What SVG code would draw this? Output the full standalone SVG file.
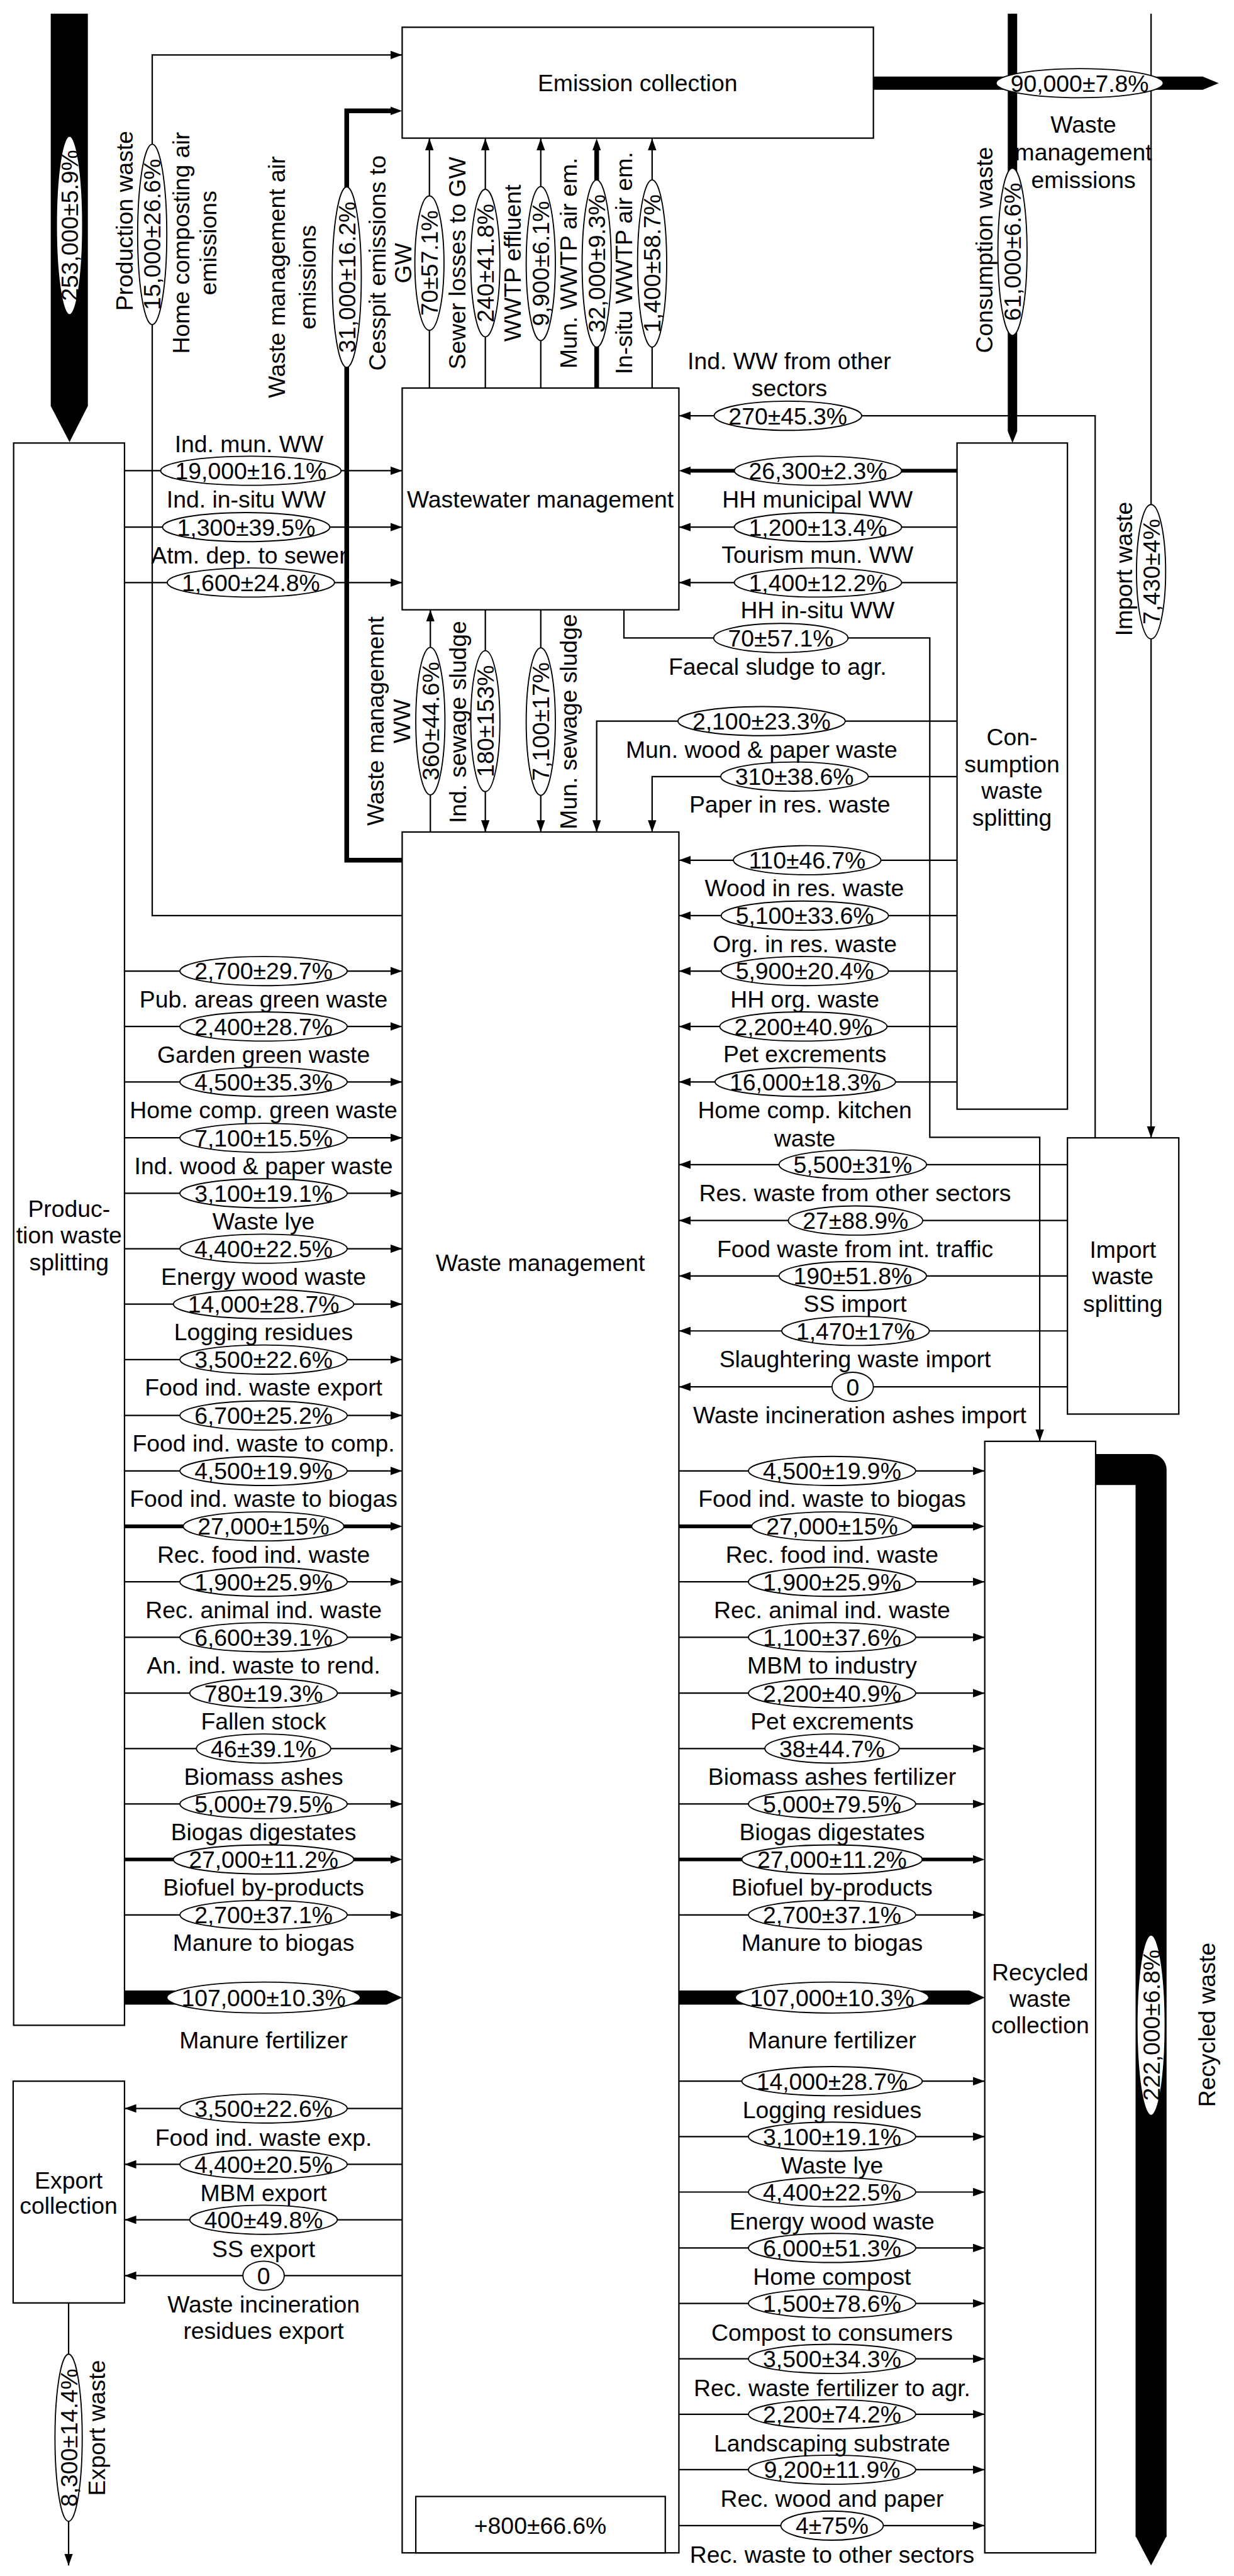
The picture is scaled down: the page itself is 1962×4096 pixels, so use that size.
<svg xmlns="http://www.w3.org/2000/svg" width="1962" height="4096" viewBox="0 0 1962 4096">
<style>
.b{fill:#fff;stroke:#000;stroke-width:3}
.l{fill:none;stroke:#000;stroke-width:3}
.k{stroke-width:8}
.e{fill:#fff;stroke:#000;stroke-width:2.5}
.f{fill:#000;stroke:none}
text{font-family:"Liberation Sans",Arial,sans-serif;font-size:50px;text-anchor:middle;fill:#000}
</style>
<defs>
<marker id="a" markerUnits="userSpaceOnUse" viewBox="0 0 25 18" markerWidth="25" markerHeight="18" refX="25" refY="9" orient="auto"><path d="M0,0L25,9L0,18z"/></marker>
<marker id="b" markerUnits="userSpaceOnUse" viewBox="0 0 25 18" markerWidth="25" markerHeight="18" refX="9" refY="9" orient="auto"><path d="M0,0L25,9L0,18z"/></marker>
</defs>
<rect width="1962" height="4096" fill="#fff"/>
<g transform="scale(0.747)">
<g id="connectors">
<polygon class="f" points="108,29 187,29 187,864 148,941 108,864"/>
<path class="l" d="M856,1949H324V117H856" marker-end="url(#a)"/>
<path class="l" style="stroke-width:10" d="M856,1831H738V236H840" marker-end="url(#b)"/>
<path class="l" d="M914,826V295" marker-end="url(#a)"/>
<path class="l" d="M1033,826V295" marker-end="url(#a)"/>
<path class="l" d="M1151,826V295" marker-end="url(#a)"/>
<path class="l" style="stroke-width:10" d="M1270,826V311" marker-end="url(#b)"/>
<path class="l" d="M1388,826V295" marker-end="url(#a)"/>
<polygon class="f" points="1859,163 2560,163 2594,177 2560,191 1859,191"/>
<polygon class="f" points="2145,29 2165,29 2165,918 2155,943 2145,918"/>
<path class="l" d="M2450,29V2422" marker-end="url(#a)"/>
<path class="l" d="M2331,2422V885H1445" marker-end="url(#a)"/>
<path class="l k" d="M2037,1002H1461" marker-end="url(#b)"/>
<path class="l" d="M2037,1122H1445" marker-end="url(#a)"/>
<path class="l" d="M2037,1240H1445" marker-end="url(#a)"/>
<path class="l" d="M265,1002H856" marker-end="url(#a)"/>
<path class="l" d="M265,1122H856" marker-end="url(#a)"/>
<path class="l" d="M265,1240H856" marker-end="url(#a)"/>
<path class="l" d="M1328,1298V1358H1979V2421H2213V3068" marker-end="url(#a)"/>
<path class="l" d="M2037,1535H1270V1771" marker-end="url(#a)"/>
<path class="l" d="M2037,1653H1388V1771" marker-end="url(#a)"/>
<path class="l" d="M916,1771V1298" marker-end="url(#a)"/>
<path class="l" d="M1033,1298V1771" marker-end="url(#a)"/>
<path class="l" d="M1151,1298V1771" marker-end="url(#a)"/>
<path class="l" d="M2037,1831H1445" marker-end="url(#a)"/>
<path class="l" d="M2037,1949H1445" marker-end="url(#a)"/>
<path class="l" d="M2037,2067H1445" marker-end="url(#a)"/>
<path class="l" d="M2037,2185H1445" marker-end="url(#a)"/>
<path class="l" d="M2037,2303H1445" marker-end="url(#a)"/>
<path class="l" d="M2272,2479H1445" marker-end="url(#a)"/>
<path class="l" d="M2272,2598H1445" marker-end="url(#a)"/>
<path class="l" d="M2272,2716H1445" marker-end="url(#a)"/>
<path class="l" d="M2272,2833H1445" marker-end="url(#a)"/>
<path class="l" d="M2272,2952H1445" marker-end="url(#a)"/>
<path class="l" d="M265,2067H856" marker-end="url(#a)"/>
<path class="l" d="M265,2185H856" marker-end="url(#a)"/>
<path class="l" d="M265,2303H856" marker-end="url(#a)"/>
<path class="l" d="M265,2422H856" marker-end="url(#a)"/>
<path class="l" d="M265,2540H856" marker-end="url(#a)"/>
<path class="l" d="M265,2658H856" marker-end="url(#a)"/>
<path class="l" d="M265,2776H856" marker-end="url(#a)"/>
<path class="l" d="M265,2894H856" marker-end="url(#a)"/>
<path class="l" d="M265,3013H856" marker-end="url(#a)"/>
<path class="l" d="M265,3131H856" marker-end="url(#a)"/>
<path class="l k" d="M265,3249H840" marker-end="url(#b)"/>
<path class="l" d="M265,3367H856" marker-end="url(#a)"/>
<path class="l" d="M265,3485H856" marker-end="url(#a)"/>
<path class="l" d="M265,3604H856" marker-end="url(#a)"/>
<path class="l" d="M265,3722H856" marker-end="url(#a)"/>
<path class="l" d="M265,3840H856" marker-end="url(#a)"/>
<path class="l k" d="M265,3958H840" marker-end="url(#b)"/>
<path class="l" d="M265,4076H856" marker-end="url(#a)"/>
<polygon class="f" points="265,4237 823,4237 856,4252 823,4267 265,4267"/>
<path class="l" d="M1445,3131H2096" marker-end="url(#a)"/>
<path class="l k" d="M1445,3249H2080" marker-end="url(#b)"/>
<path class="l" d="M1445,3367H2096" marker-end="url(#a)"/>
<path class="l" d="M1445,3485H2096" marker-end="url(#a)"/>
<path class="l" d="M1445,3604H2096" marker-end="url(#a)"/>
<path class="l" d="M1445,3722H2096" marker-end="url(#a)"/>
<path class="l" d="M1445,3840H2096" marker-end="url(#a)"/>
<path class="l k" d="M1445,3958H2080" marker-end="url(#b)"/>
<path class="l" d="M1445,4076H2096" marker-end="url(#a)"/>
<polygon class="f" points="1445,4237 2063,4237 2096,4252 2063,4267 1445,4267"/>
<path class="l" d="M1445,4430H2096" marker-end="url(#a)"/>
<path class="l" d="M1445,4548H2096" marker-end="url(#a)"/>
<path class="l" d="M1445,4666H2096" marker-end="url(#a)"/>
<path class="l" d="M1445,4785H2096" marker-end="url(#a)"/>
<path class="l" d="M1445,4903H2096" marker-end="url(#a)"/>
<path class="l" d="M1445,5021H2096" marker-end="url(#a)"/>
<path class="l" d="M1445,5139H2096" marker-end="url(#a)"/>
<path class="l" d="M1445,5257H2096" marker-end="url(#a)"/>
<path class="l" d="M1445,5376H2096" marker-end="url(#a)"/>
<path class="l" d="M856,4488H265" marker-end="url(#a)"/>
<path class="l" d="M856,4607H265" marker-end="url(#a)"/>
<path class="l" d="M856,4725H265" marker-end="url(#a)"/>
<path class="l" d="M856,4844H265" marker-end="url(#a)"/>
<path class="l" d="M146,4902V5461" marker-end="url(#a)"/>
<path d="M2332,3128H2450V5400" style="fill:none;stroke:#000;stroke-width:66;stroke-linejoin:round"/>
<polygon class="f" points="2417,5398 2483,5398 2450,5461"/>
</g>
<g id="emission-collection"><rect class="b" x="856" y="58" width="1003" height="236"/><text x="1357" y="194">Emission collection</text></g>
<g id="wastewater-management"><rect class="b" x="856" y="826" width="589" height="472"/><text x="1150" y="1080">Wastewater management</text></g>
<g id="waste-management"><rect class="b" x="856" y="1771" width="589" height="3663"/><text x="1150" y="2706">Waste management</text><rect class="b" x="885" y="5314" width="531" height="120"/><text x="1150" y="5393">+800±66.6%</text></g>
<g id="production-waste-splitting"><rect class="b" x="29" y="943" width="236" height="3368"/><text x="147" y="2590">Produc-</text><text x="147" y="2647">tion waste</text><text x="147" y="2704">splitting</text></g>
<g id="export-collection"><rect class="b" x="28" y="4430" width="237" height="472"/><text x="146" y="4658">Export</text><text x="146" y="4712">collection</text></g>
<g id="consumption-waste-splitting"><rect class="b" x="2037" y="943" width="235" height="1418"/><text x="2154" y="1586">Con-</text><text x="2154" y="1644">sumption</text><text x="2154" y="1700">waste</text><text x="2154" y="1758">splitting</text></g>
<g id="import-waste-splitting"><rect class="b" x="2272" y="2422" width="237" height="588"/><text x="2390" y="2677">Import</text><text x="2390" y="2734">waste</text><text x="2390" y="2792">splitting</text></g>
<g id="recycled-waste-collection"><rect class="b" x="2096" y="3068" width="236" height="2366"/><text x="2214" y="4215">Recycled</text><text x="2214" y="4272">waste</text><text x="2214" y="4328">collection</text></g>
<g id="connector-labels">
<ellipse class="e" cx="148" cy="480" rx="28" ry="190"/><text transform="translate(148,480) rotate(-90)" y="18">253,000±5.9%</text>
<ellipse class="e" cx="324" cy="499" rx="31" ry="192"/><text transform="translate(324,499) rotate(-90)" y="18">15,000±26.6%</text>
<ellipse class="e" cx="738" cy="590" rx="31" ry="192"/><text transform="translate(738,590) rotate(-90)" y="18">31,000±16.2%</text>
<ellipse class="e" cx="914" cy="560" rx="31" ry="143"/><text transform="translate(914,560) rotate(-90)" y="18">70±57.1%</text>
<ellipse class="e" cx="1033" cy="560" rx="31" ry="157"/><text transform="translate(1033,560) rotate(-90)" y="18">240±41.8%</text>
<ellipse class="e" cx="1151" cy="561" rx="31" ry="164"/><text transform="translate(1151,561) rotate(-90)" y="18">9,900±6.1%</text>
<ellipse class="e" cx="1270" cy="561" rx="31" ry="178"/><text transform="translate(1270,561) rotate(-90)" y="18">32,000±9.3%</text>
<ellipse class="e" cx="1388" cy="561" rx="31" ry="178"/><text transform="translate(1388,561) rotate(-90)" y="18">1,400±58.7%</text>
<ellipse class="e" cx="2155" cy="536" rx="31" ry="178"/><text transform="translate(2155,536) rotate(-90)" y="18">61,000±6.6%</text>
<ellipse class="e" cx="2450" cy="1217" rx="31" ry="143"/><text transform="translate(2450,1217) rotate(-90)" y="18">7,430±4%</text>
<ellipse class="e" cx="916" cy="1535" rx="31" ry="157"/><text transform="translate(916,1535) rotate(-90)" y="18">360±44.6%</text>
<ellipse class="e" cx="1033" cy="1535" rx="31" ry="150"/><text transform="translate(1033,1535) rotate(-90)" y="18">180±153%</text>
<ellipse class="e" cx="1151" cy="1536" rx="31" ry="157"/><text transform="translate(1151,1536) rotate(-90)" y="18">7,100±17%</text>
<ellipse class="e" cx="146" cy="5189" rx="29" ry="178"/><text transform="translate(146,5189) rotate(-90)" y="18">8,300±14.4%</text>
<ellipse class="e" cx="2450" cy="4311" rx="30" ry="192"/><text transform="translate(2450,4311) rotate(-90)" y="18">222,000±6.8%</text>
<ellipse class="e" cx="2298" cy="177" rx="178" ry="31"/><text x="2298" y="195">90,000±7.8%</text>
<ellipse class="e" cx="1677" cy="885" rx="157" ry="31"/><text x="1677" y="903">270±45.3%</text>
<ellipse class="e" cx="534" cy="1002" rx="192" ry="31"/><text x="534" y="1020">19,000±16.1%</text>
<ellipse class="e" cx="524" cy="1122" rx="178" ry="31"/><text x="524" y="1140">1,300±39.5%</text>
<ellipse class="e" cx="534" cy="1240" rx="178" ry="31"/><text x="534" y="1258">1,600±24.8%</text>
<ellipse class="e" cx="1741" cy="1002" rx="178" ry="31"/><text x="1741" y="1020">26,300±2.3%</text>
<ellipse class="e" cx="1741" cy="1122" rx="178" ry="31"/><text x="1741" y="1140">1,200±13.4%</text>
<ellipse class="e" cx="1741" cy="1240" rx="178" ry="31"/><text x="1741" y="1258">1,400±12.2%</text>
<ellipse class="e" cx="1662" cy="1358" rx="143" ry="31"/><text x="1662" y="1376">70±57.1%</text>
<ellipse class="e" cx="1621" cy="1535" rx="178" ry="31"/><text x="1621" y="1553">2,100±23.3%</text>
<ellipse class="e" cx="1691" cy="1653" rx="157" ry="31"/><text x="1691" y="1671">310±38.6%</text>
<ellipse class="e" cx="1718" cy="1831" rx="157" ry="31"/><text x="1718" y="1849">110±46.7%</text>
<ellipse class="e" cx="1713" cy="1949" rx="178" ry="31"/><text x="1713" y="1967">5,100±33.6%</text>
<ellipse class="e" cx="1713" cy="2067" rx="178" ry="31"/><text x="1713" y="2085">5,900±20.4%</text>
<ellipse class="e" cx="1710" cy="2185" rx="178" ry="31"/><text x="1710" y="2203">2,200±40.9%</text>
<ellipse class="e" cx="1714" cy="2303" rx="192" ry="31"/><text x="1714" y="2321">16,000±18.3%</text>
<ellipse class="e" cx="1815" cy="2479" rx="157" ry="31"/><text x="1815" y="2497">5,500±31%</text>
<ellipse class="e" cx="1821" cy="2598" rx="143" ry="31"/><text x="1821" y="2616">27±88.9%</text>
<ellipse class="e" cx="1815" cy="2716" rx="157" ry="31"/><text x="1815" y="2734">190±51.8%</text>
<ellipse class="e" cx="1821" cy="2833" rx="157" ry="31"/><text x="1821" y="2851">1,470±17%</text>
<ellipse class="e" cx="1815" cy="2952" rx="44" ry="31"/><text x="1815" y="2970">0</text>
<ellipse class="e" cx="561" cy="2067" rx="178" ry="31"/><text x="561" y="2085">2,700±29.7%</text>
<ellipse class="e" cx="561" cy="2185" rx="178" ry="31"/><text x="561" y="2203">2,400±28.7%</text>
<ellipse class="e" cx="561" cy="2303" rx="178" ry="31"/><text x="561" y="2321">4,500±35.3%</text>
<ellipse class="e" cx="561" cy="2422" rx="178" ry="31"/><text x="561" y="2440">7,100±15.5%</text>
<ellipse class="e" cx="561" cy="2540" rx="178" ry="31"/><text x="561" y="2558">3,100±19.1%</text>
<ellipse class="e" cx="561" cy="2658" rx="178" ry="31"/><text x="561" y="2676">4,400±22.5%</text>
<ellipse class="e" cx="561" cy="2776" rx="192" ry="31"/><text x="561" y="2794">14,000±28.7%</text>
<ellipse class="e" cx="561" cy="2894" rx="178" ry="31"/><text x="561" y="2912">3,500±22.6%</text>
<ellipse class="e" cx="561" cy="3013" rx="178" ry="31"/><text x="561" y="3031">6,700±25.2%</text>
<ellipse class="e" cx="561" cy="3131" rx="178" ry="31"/><text x="561" y="3149">4,500±19.9%</text>
<ellipse class="e" cx="561" cy="3249" rx="171" ry="31"/><text x="561" y="3267">27,000±15%</text>
<ellipse class="e" cx="561" cy="3367" rx="178" ry="31"/><text x="561" y="3385">1,900±25.9%</text>
<ellipse class="e" cx="561" cy="3485" rx="178" ry="31"/><text x="561" y="3503">6,600±39.1%</text>
<ellipse class="e" cx="561" cy="3604" rx="157" ry="31"/><text x="561" y="3622">780±19.3%</text>
<ellipse class="e" cx="561" cy="3722" rx="143" ry="31"/><text x="561" y="3740">46±39.1%</text>
<ellipse class="e" cx="561" cy="3840" rx="178" ry="31"/><text x="561" y="3858">5,000±79.5%</text>
<ellipse class="e" cx="561" cy="3958" rx="192" ry="31"/><text x="561" y="3976">27,000±11.2%</text>
<ellipse class="e" cx="561" cy="4076" rx="178" ry="31"/><text x="561" y="4094">2,700±37.1%</text>
<ellipse class="e" cx="561" cy="4252" rx="206" ry="33"/><text x="561" y="4270">107,000±10.3%</text>
<ellipse class="e" cx="1771" cy="3131" rx="178" ry="31"/><text x="1771" y="3149">4,500±19.9%</text>
<ellipse class="e" cx="1771" cy="3249" rx="171" ry="31"/><text x="1771" y="3267">27,000±15%</text>
<ellipse class="e" cx="1771" cy="3367" rx="178" ry="31"/><text x="1771" y="3385">1,900±25.9%</text>
<ellipse class="e" cx="1771" cy="3485" rx="178" ry="31"/><text x="1771" y="3503">1,100±37.6%</text>
<ellipse class="e" cx="1771" cy="3604" rx="178" ry="31"/><text x="1771" y="3622">2,200±40.9%</text>
<ellipse class="e" cx="1771" cy="3722" rx="143" ry="31"/><text x="1771" y="3740">38±44.7%</text>
<ellipse class="e" cx="1771" cy="3840" rx="178" ry="31"/><text x="1771" y="3858">5,000±79.5%</text>
<ellipse class="e" cx="1771" cy="3958" rx="192" ry="31"/><text x="1771" y="3976">27,000±11.2%</text>
<ellipse class="e" cx="1771" cy="4076" rx="178" ry="31"/><text x="1771" y="4094">2,700±37.1%</text>
<ellipse class="e" cx="1771" cy="4252" rx="206" ry="33"/><text x="1771" y="4270">107,000±10.3%</text>
<ellipse class="e" cx="1771" cy="4430" rx="192" ry="31"/><text x="1771" y="4448">14,000±28.7%</text>
<ellipse class="e" cx="1771" cy="4548" rx="178" ry="31"/><text x="1771" y="4566">3,100±19.1%</text>
<ellipse class="e" cx="1771" cy="4666" rx="178" ry="31"/><text x="1771" y="4684">4,400±22.5%</text>
<ellipse class="e" cx="1771" cy="4785" rx="178" ry="31"/><text x="1771" y="4803">6,000±51.3%</text>
<ellipse class="e" cx="1771" cy="4903" rx="178" ry="31"/><text x="1771" y="4921">1,500±78.6%</text>
<ellipse class="e" cx="1771" cy="5021" rx="178" ry="31"/><text x="1771" y="5039">3,500±34.3%</text>
<ellipse class="e" cx="1771" cy="5139" rx="178" ry="31"/><text x="1771" y="5157">2,200±74.2%</text>
<ellipse class="e" cx="1771" cy="5257" rx="178" ry="31"/><text x="1771" y="5275">9,200±11.9%</text>
<ellipse class="e" cx="1771" cy="5376" rx="109" ry="31"/><text x="1771" y="5394">4±75%</text>
<ellipse class="e" cx="561" cy="4488" rx="178" ry="31"/><text x="561" y="4506">3,500±22.6%</text>
<ellipse class="e" cx="561" cy="4607" rx="178" ry="31"/><text x="561" y="4625">4,400±20.5%</text>
<ellipse class="e" cx="561" cy="4725" rx="157" ry="31"/><text x="561" y="4743">400±49.8%</text>
<ellipse class="e" cx="561" cy="4844" rx="44" ry="31"/><text x="561" y="4862">0</text>
<text transform="translate(265,470) rotate(-90)" y="18">Production waste</text>
<text transform="translate(385,517) rotate(-90)" y="18">Home composting air</text>
<text transform="translate(442,517) rotate(-90)" y="18">emissions</text>
<text transform="translate(588,590) rotate(-90)" y="18">Waste management air</text>
<text transform="translate(654,590) rotate(-90)" y="18">emissions</text>
<text transform="translate(802,560) rotate(-90)" y="18">Cesspit emissions to</text>
<text transform="translate(857,560) rotate(-90)" y="18">GW</text>
<text transform="translate(972,560) rotate(-90)" y="18">Sewer losses to GW</text>
<text transform="translate(1091,560) rotate(-90)" y="18">WWTP effluent</text>
<text transform="translate(1210,560) rotate(-90)" y="18">Mun. WWTP air em.</text>
<text transform="translate(1328,560) rotate(-90)" y="18">In-situ WWTP air em.</text>
<text transform="translate(2095,532) rotate(-90)" y="18">Consumption waste</text>
<text transform="translate(2391,1211) rotate(-90)" y="18">Import waste</text>
<text transform="translate(799,1535) rotate(-90)" y="18">Waste management</text>
<text transform="translate(855,1535) rotate(-90)" y="18">WW</text>
<text transform="translate(974,1537) rotate(-90)" y="18">Ind. sewage sludge</text>
<text transform="translate(1210,1536) rotate(-90)" y="18">Mun. sewage sludge</text>
<text transform="translate(206,5168) rotate(-90)" y="18">Export waste</text>
<text transform="translate(2569,4310) rotate(-90)" y="18">Recycled waste</text>
<text x="2306" y="283">Waste</text>
<text x="2306" y="341">management</text>
<text x="2306" y="400">emissions</text>
<text x="1680" y="786">Ind. WW from other</text>
<text x="1680" y="844">sectors</text>
<text x="530" y="962">Ind. mun. WW</text>
<text x="524" y="1080">Ind. in-situ WW</text>
<text x="530" y="1200">Atm. dep. to sewer</text>
<text x="1740" y="1080">HH municipal WW</text>
<text x="1740" y="1198">Tourism mun. WW</text>
<text x="1740" y="1316">HH in-situ WW</text>
<text x="1655" y="1436">Faecal sludge to agr.</text>
<text x="1621" y="1613">Mun. wood &amp; paper waste</text>
<text x="1681" y="1729">Paper in res. waste</text>
<text x="1712" y="1907">Wood in res. waste</text>
<text x="1713" y="2027">Org. in res. waste</text>
<text x="1713" y="2144">HH org. waste</text>
<text x="1713" y="2261">Pet excrements</text>
<text x="1713" y="2380">Home comp. kitchen</text>
<text x="1713" y="2440">waste</text>
<text x="1820" y="2557">Res. waste from other sectors</text>
<text x="1820" y="2676">Food waste from int. traffic</text>
<text x="1820" y="2793">SS import</text>
<text x="1820" y="2910">Slaughtering waste import</text>
<text x="1830" y="3029">Waste incineration ashes import</text>
<text x="561" y="2144">Pub. areas green waste</text>
<text x="561" y="2262">Garden green waste</text>
<text x="561" y="2380">Home comp. green waste</text>
<text x="561" y="2499">Ind. wood &amp; paper waste</text>
<text x="561" y="2617">Waste lye</text>
<text x="561" y="2735">Energy wood waste</text>
<text x="561" y="2853">Logging residues</text>
<text x="561" y="2971">Food ind. waste export</text>
<text x="561" y="3090">Food ind. waste to comp.</text>
<text x="561" y="3208">Food ind. waste to biogas</text>
<text x="561" y="3326">Rec. food ind. waste</text>
<text x="561" y="3444">Rec. animal ind. waste</text>
<text x="561" y="3562">An. ind. waste to rend.</text>
<text x="561" y="3681">Fallen stock</text>
<text x="561" y="3799">Biomass ashes</text>
<text x="561" y="3917">Biogas digestates</text>
<text x="561" y="4035">Biofuel by-products</text>
<text x="561" y="4153">Manure to biogas</text>
<text x="561" y="4360">Manure fertilizer</text>
<text x="1771" y="3208">Food ind. waste to biogas</text>
<text x="1771" y="3326">Rec. food ind. waste</text>
<text x="1771" y="3444">Rec. animal ind. waste</text>
<text x="1771" y="3562">MBM to industry</text>
<text x="1771" y="3681">Pet excrements</text>
<text x="1771" y="3799">Biomass ashes fertilizer</text>
<text x="1771" y="3917">Biogas digestates</text>
<text x="1771" y="4035">Biofuel by-products</text>
<text x="1771" y="4153">Manure to biogas</text>
<text x="1771" y="4360">Manure fertilizer</text>
<text x="1771" y="4509">Logging residues</text>
<text x="1771" y="4627">Waste lye</text>
<text x="1771" y="4745">Energy wood waste</text>
<text x="1771" y="4864">Home compost</text>
<text x="1771" y="4982">Compost to consumers</text>
<text x="1771" y="5100">Rec. waste fertilizer to agr.</text>
<text x="1771" y="5218">Landscaping substrate</text>
<text x="1771" y="5336">Rec. wood and paper</text>
<text x="1771" y="5455">Rec. waste to other sectors</text>
<text x="561" y="4568">Food ind. waste exp.</text>
<text x="561" y="4685">MBM export</text>
<text x="561" y="4804">SS export</text>
<text x="561" y="4922">Waste incineration</text>
<text x="561" y="4978">residues export</text>
</g>
</g>
</svg>
